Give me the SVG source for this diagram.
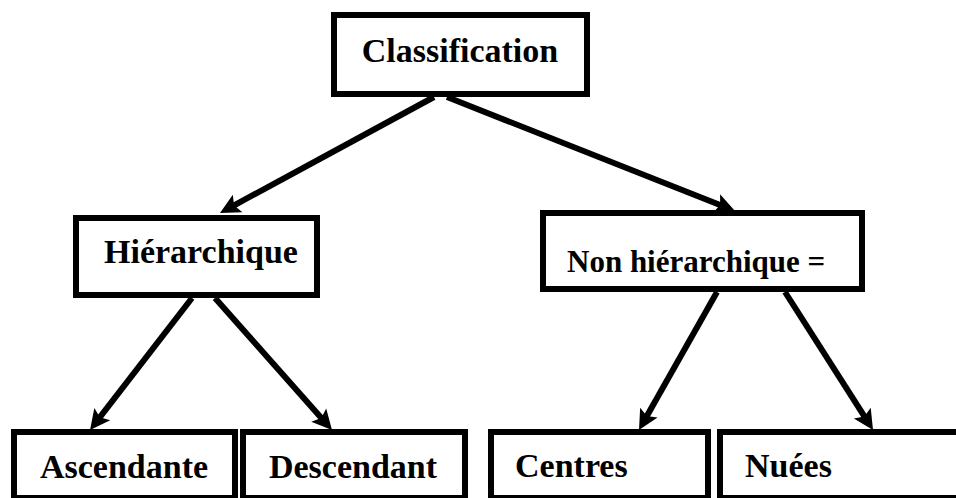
<svg xmlns="http://www.w3.org/2000/svg" width="956" height="498" viewBox="0 0 956 498">
  <style>
    .box { fill: #fff; stroke: #000; stroke-width: 6; }
    .lbl { font-family: "Liberation Serif", "Times New Roman", serif; font-weight: bold; font-size: 34px; fill: #000; }
    .edge { stroke: #000; stroke-width: 6; fill: none; marker-end: url(#head); }
  </style>
  <defs>
    <marker id="head" markerUnits="userSpaceOnUse" viewBox="-8 -12 24 24" markerWidth="24" markerHeight="24" refX="0" refY="0" orient="auto">
      <path d="M14,0 L-6,-10 L-2,0 L-6,10 Z" fill="#000"/>
    </marker>
  </defs>
  <rect width="956" height="498" fill="#fff"/>

  <g id="connectors">
    <line class="edge" x1="434" y1="97" x2="232.3" y2="206.3"/>
    <line class="edge" x1="447" y1="97" x2="722" y2="205.8"/>
    <line class="edge" x1="192" y1="298" x2="98.6" y2="418.9"/>
    <line class="edge" x1="215" y1="298" x2="322.7" y2="419.5"/>
    <line class="edge" x1="717" y1="292" x2="645.9" y2="417.8"/>
    <line class="edge" x1="785" y1="292" x2="865.5" y2="418.2"/>
  </g>

  <g id="classification">
    <rect class="box" x="334" y="15" width="253" height="79"/>
    <text class="lbl" x="460" y="62" text-anchor="middle">Classification</text>
  </g>
  <g id="hierarchique">
    <rect class="box" x="76" y="218" width="241" height="77"/>
    <text class="lbl" x="201" y="263" text-anchor="middle">Hiérarchique</text>
  </g>
  <g id="non-hierarchique">
    <rect class="box" x="543" y="213" width="319" height="76"/>
    <text class="lbl" x="567" y="272" style="font-size:31px">Non hiérarchique =</text>
  </g>
  <g id="ascendante">
    <rect class="box" x="14" y="432" width="221" height="66"/>
    <text class="lbl" x="124" y="478" text-anchor="middle">Ascendante</text>
  </g>
  <g id="descendant">
    <rect class="box" x="243" y="432" width="222" height="66"/>
    <text class="lbl" x="353" y="478" text-anchor="middle">Descendant</text>
  </g>
  <g id="centres">
    <rect class="box" x="491" y="432" width="217" height="66"/>
    <text class="lbl" x="515" y="477">Centres</text>
  </g>
  <g id="nuees">
    <rect class="box" x="720" y="432" width="240" height="66"/>
    <text class="lbl" x="745" y="477">Nuées</text>
  </g>
</svg>
